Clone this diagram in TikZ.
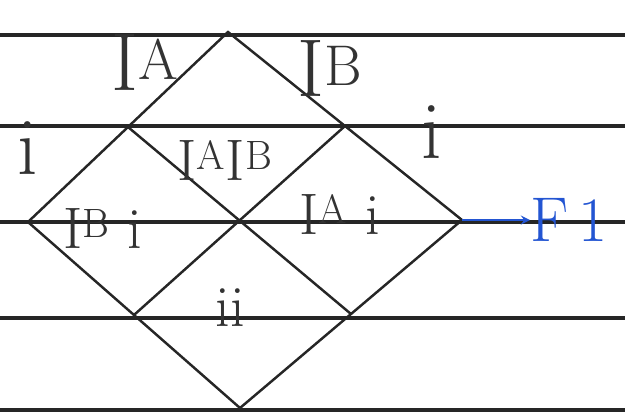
\documentclass[tikz,border=0pt]{standalone}
\usepackage{fontspec}
\usetikzlibrary{calc}

\newcommand*{\pw}{643}
\newcommand*{\ph}{413}
\newcommand*{\rulend}{625}

\begin{document}
\begin{tikzpicture}
[
	x=0.03cm,y=-0.03cm,
	ruling/.style={line width=2.6pt,black!85},
	square/.style={line width=2.1pt,black!85},
	gamete/.style={font=\fontsize{70}{80}\selectfont,text=black!80,inner sep=0pt},
	geno/.style={font=\fontsize{50}{58}\selectfont,text=black!80,inner sep=0pt},
	result/.style={font=\fontsize{54}{60}\selectfont,text=fone,inner sep=0pt}
]
	\definecolor{fone}{RGB}{35,85,210}
	\useasboundingbox (0,0) rectangle (\pw,\ph);

	% lined paper
	\foreach \y in {35,126,222,318,410} {
		\draw[ruling] (0,\y) -- (\rulend,\y);
	}

	% the square, turned on its corner
	\coordinate (top) at (228,32);
	\coordinate (left) at (28,222);
	\coordinate (right) at (462,220);
	\coordinate (bottom) at (240,408);
	\coordinate (tl) at ($(top)!0.5!(left)$);
	\coordinate (tr) at ($(top)!0.5!(right)$);
	\coordinate (bl) at ($(bottom)!0.5!(left)$);
	\coordinate (br) at ($(bottom)!0.5!(right)$);

	\draw[square] (top) -- (right) -- (bottom) -- (left) -- cycle;
	\draw[square] (tl) -- (br);
	\draw[square] (tr) -- (bl);

	% gametes
	\node[gamete] (ga) at (145,62) {I\textsuperscript{A}};
	\node[gamete] (gb) at (330,68) {I\textsuperscript{B}};
	\node[gamete] (gl) at (28,148) {i};
	\node[gamete] (gr) at (432,132) {i};

	% offspring
	\node[geno] (ab) at (225,160) {I\textsuperscript{A}I\textsuperscript{B}};
	\node[geno] (bi) at (103,228) {I\textsuperscript{B} i};
	\node[geno] (ai) at (340,214) {I\textsuperscript{A} i};
	\node[geno] (ii) at (230,308) {ii};

	% generation
	\node[result,anchor=west] (f1) at (530,220) {F\,1};
	\draw[fone,line width=2.4pt,-stealth] (right) -- (f1.west);

\end{tikzpicture}
\end{document}
